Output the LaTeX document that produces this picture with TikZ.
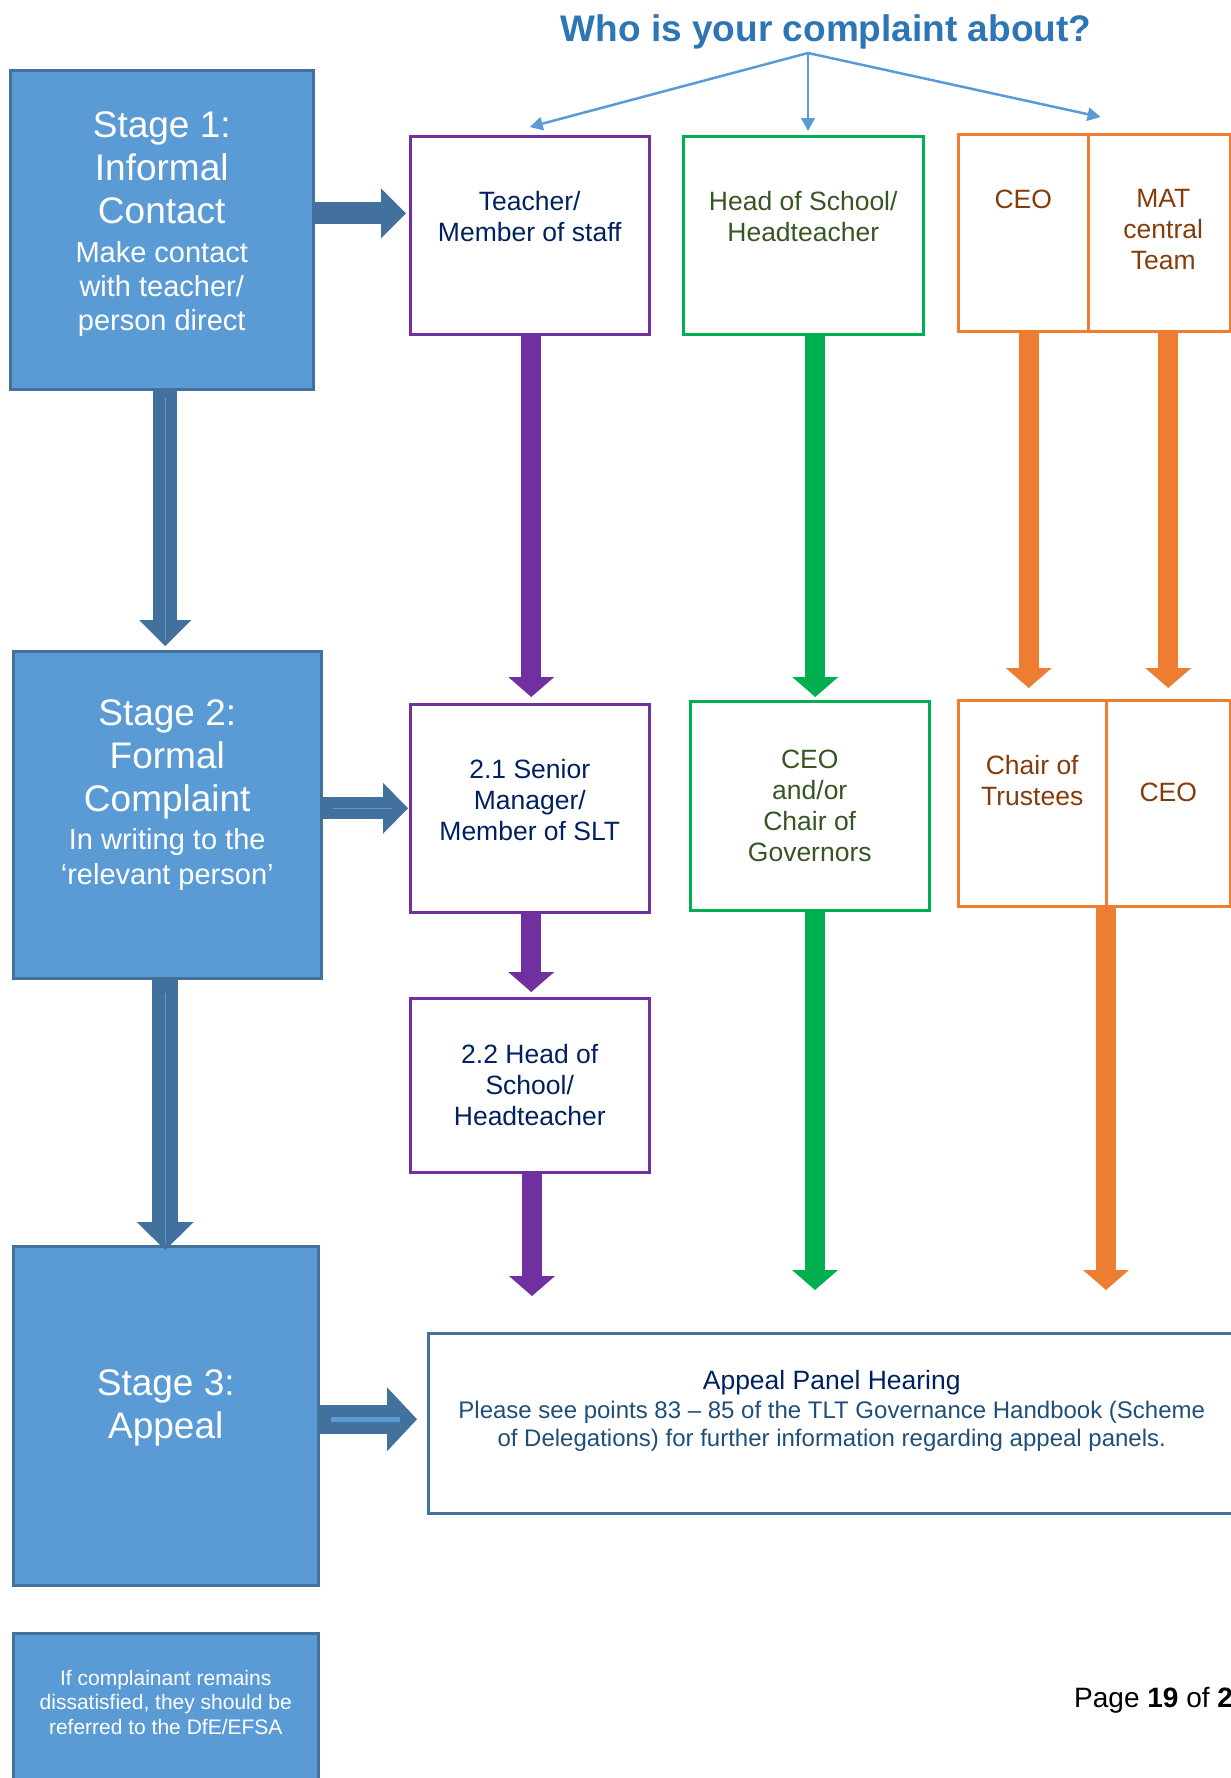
\documentclass[tikz,border=0pt]{standalone}
\usepackage{fontspec}
\setmainfont{Liberation Sans}
\usetikzlibrary{positioning}
\usetikzlibrary{calc}
\usetikzlibrary{arrows.meta}

\definecolor{stagefill}{HTML}{5B9BD5}
\definecolor{stageline}{HTML}{41719C}
\definecolor{titleblue}{HTML}{2E75B6}
\definecolor{violetline}{HTML}{7030A0}
\definecolor{greenline}{HTML}{00B050}
\definecolor{greentext}{HTML}{375623}
\definecolor{orangeline}{HTML}{ED7D31}
\definecolor{orangetext}{HTML}{843C0C}
\definecolor{navytext}{HTML}{002060}
\definecolor{bodytext}{HTML}{1F4E79}

\newcommand{\stagesmall}{\fontsize{29}{34}\selectfont}
\newcommand{\appealbody}{\fontsize{24}{28}\selectfont\color{bodytext}}

\tikzset{
    box/.style={draw, line width=2.5pt, inner sep=0pt, anchor=north west},
    stagebox/.style={box, fill=stagefill, draw=stageline},
    purplebox/.style={box, draw=violetline},
    greenbox/.style={box, draw=greenline},
    orangebox/.style={box, draw=orangeline},
    appealbox/.style={box, draw=stageline},
    boxtext/.style={align=center, inner sep=0pt, font=\fontsize{26.5}{31}\selectfont},
    stagetext/.style={align=center, inner sep=0pt, text=white, font=\fontsize{37}{43}\selectfont},
    flow/.style={line width=20pt, -{Triangle[width=46pt,length=20pt,line width=0pt]}},
    stageflow/.style n args={3}{draw=stageline, line width=#1, -{Triangle[width=#2,length=#3,line width=0pt]}},
    glint/.style={draw=stagefill, line width=1pt},
    askarrow/.style={draw=stagefill, line width=2.5pt, -{Triangle[width=14pt,length=13pt,line width=0pt]}},
}

\begin{document}
\begin{tikzpicture}[x=1pt, y=-1pt]
\useasboundingbox (0,0) rectangle (1231,1778);

% question on top
\node[font=\bfseries\fontsize{37}{44}\selectfont, text=titleblue, anchor=base, inner sep=0pt] (title) at (826,41) {Who is your complaint about?};
\coordinate (fork) at ([xshift=-18pt,yshift=-12pt]title.base);

% stages
\node[stagebox, minimum width=303pt, minimum height=319pt] (s1) at (9,69) {};
\node[stagebox, minimum width=308pt, minimum height=327pt] (s2) at (12,650) {};
\node[stagebox, minimum width=305pt, minimum height=339pt] (s3) at (12,1245) {};
\node[stagebox, minimum width=305pt, minimum height=220pt] (s4) at (12,1632) {};

\node[stagetext] (s1t) at ([yshift=6pt]s1.center) {Stage 1:\\Informal\\Contact\\[-4pt]\stagesmall Make contact\\[-9pt]\stagesmall with teacher/\\[-9pt]\stagesmall person direct};
\node[stagetext] (s2t) at ([yshift=20pt]s2.center) {Stage 2:\\Formal\\Complaint\\[-5pt]\stagesmall In writing to the\\[-8pt]\stagesmall ‘relevant person’};
\node[stagetext] (s3t) at ([yshift=7.5pt]s3.center) {Stage 3:\\Appeal};
\node[stagetext, font=\fontsize{21}{24.5}\selectfont] (s4t) at ([yshift=-70pt]s4.north) {If complainant remains\\dissatisfied, they should be\\referred to the DfE/EFSA};

% people
\node[purplebox, minimum width=239pt, minimum height=198pt] (teach) at (409,135) {};
\node[purplebox, minimum width=239pt, minimum height=208pt] (smgr) at (409,703) {};
\node[purplebox, minimum width=239pt, minimum height=174pt] (hos) at (409,997) {};
\node[greenbox, minimum width=240pt, minimum height=198pt] (head) at (682,135) {};
\node[greenbox, minimum width=239pt, minimum height=209pt] (gov) at (689,700) {};
\node[orangebox, minimum width=130pt, minimum height=197pt] (ceo1) at (957,133) {};
\node[orangebox, minimum width=142pt, minimum height=197pt] (mat) at (1087,133) {};
\node[orangebox, minimum width=148pt, minimum height=206pt] (chair) at (957,699) {};
\node[orangebox, minimum width=124pt, minimum height=206pt] (ceo2) at (1105,699) {};
\node[appealbox, minimum width=807pt, minimum height=180pt] (appeal) at (427,1332) {};

\node[boxtext, text=navytext] (teach-t) at ([yshift=18.5pt]teach.center) {Teacher/\\Member of staff};
\node[boxtext, text=navytext] (smgr-t) at ([yshift=8pt]smgr.center) {2.1 Senior\\Manager/\\Member of SLT};
\node[boxtext, text=navytext] (hos-t) at (hos.center) {2.2 Head of\\School/\\Headteacher};
\node[boxtext, text=greentext] (head-t) at ([yshift=18.5pt]head.center) {Head of School/\\Headteacher};
\node[boxtext, text=greentext] (gov-t) at (gov.center) {CEO\\and/or\\Chair of\\Governors};
\node[boxtext, text=orangetext] (ceo1-t) at ([yshift=33.5pt]ceo1.center) {CEO};
\node[boxtext, text=orangetext] (mat-t) at ([xshift=4pt,yshift=3.5pt]mat.center) {MAT\\central\\Team};
\node[boxtext, text=orangetext] (chair-t) at ([yshift=22.5pt]chair.center) {Chair of\\Trustees};
\node[boxtext, text=orangetext] (ceo2-t) at ([yshift=11pt]ceo2.center) {CEO};
\node[boxtext, text=navytext] (appeal-t) at ([yshift=12.5pt]appeal.center) {Appeal Panel Hearing\\[-2pt]\appealbody Please see points 83 – 85 of the TLT Governance Handbook (Scheme\\[-3pt]\appealbody of Delegations) for further information regarding appeal panels.};

\node[anchor=base west, inner sep=0pt, font=\fontsize{28}{33}\selectfont] (page) at (1074,1707) {Page \textbf{19} of \textbf{2}};

% loose ends
\coordinate (vend) at (532,1296);
\coordinate (gend) at (815,1290);
\coordinate (oend) at (1106,1290);

% who is it about
\draw[askarrow] (fork) -- ([yshift=8pt]teach.north);
\draw[askarrow] (fork) -- ([yshift=4pt]fork |- head.north);
\draw[askarrow] (fork) -- ([xshift=11pt,yshift=16pt]ceo1.north east);

% stage arrows
\draw[stageflow={22pt}{50pt}{25pt}, shorten >=3pt] ([yshift=16.5pt]s1.east) -- ([yshift=16.5pt]s1.east -| teach.west);
\draw[stageflow={22pt}{51pt}{25pt}, shorten >=1pt] (s2.east |- smgr.west) -- (smgr.west);
\draw[stageflow={29pt}{64pt}{30pt}, shorten >=10pt] ([yshift=-3.5pt]s3.east) -- ([yshift=-3.5pt]s3.east -| appeal.west);
\draw[stageflow={24pt}{52pt}{26pt}, shorten >=4pt] ([xshift=3.5pt]s1.south) -- ([xshift=3.5pt]s1.south |- s2.north);
\draw[stageflow={26pt}{57pt}{28pt}, shorten >=-5pt] ([xshift=-2pt]s2.south) -- ([xshift=-2pt]s2.south |- s3.north);

\draw[glint, shorten <=7pt, shorten >=10pt] ([xshift=3.5pt]s1.south) -- ([xshift=3.5pt]s1.south |- s2.north);
\draw[glint, shorten <=13pt, shorten >=2pt] ([xshift=-2pt]s2.south) -- ([xshift=-2pt]s2.south |- s3.north);
\draw[glint, shorten <=10pt, shorten >=17pt] (s2.east |- smgr.west) -- (smgr.west);
\draw[glint, line width=5pt, shorten <=11pt, shorten >=27pt] ([yshift=-3.5pt]s3.east) -- ([yshift=-3.5pt]s3.east -| appeal.west);

% purple route
\draw[flow, draw=violetline, shorten >=6pt] ([xshift=1.5pt]teach.south) -- ([xshift=1.5pt]teach.south |- smgr.north);
\draw[flow, draw=violetline, shorten >=5pt] ([xshift=1.5pt]smgr.south) -- ([xshift=1.5pt]smgr.south |- hos.north);
\draw[flow, draw=violetline] (hos.south -| vend) -- (vend);

% green route
\draw[flow, draw=greenline, shorten >=3pt] ([xshift=12pt]head.south) -- ([xshift=12pt]head.south |- gov.north);
\draw[flow, draw=greenline] (gov.south -| gend) -- (gend);

% orange route
\draw[flow, draw=orangeline, shorten >=11pt] ([xshift=5.5pt]ceo1.south) -- ([xshift=5.5pt]ceo1.south |- chair.north);
\draw[flow, draw=orangeline, shorten >=11pt] ([xshift=9pt]mat.south) -- ([xshift=9pt]mat.south |- ceo2.north);
\draw[flow, draw=orangeline] (chair.south east -| oend) -- (oend);
\end{tikzpicture}
\end{document}
